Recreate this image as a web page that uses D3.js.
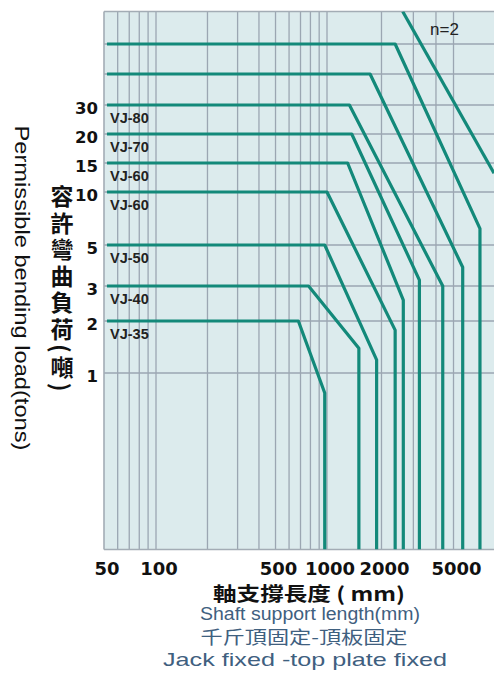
<!DOCTYPE html>
<html>
<head>
<meta charset="utf-8">
<script src="https://cdn.jsdelivr.net/npm/d3@7"></script>
<style>
  body { margin: 0; background: #fff; }
  svg { display: block; }
</style>
</head>
<body>
<div id="chart"></div>
<script>
// shaft support length (mm) ticks and grid
const xTicks = [50, 100, 500, 1000, 2000, 5000];
const xGrid = [60, 70, 80, 90, 100, 200, 300, 400, 500, 600, 700, 800, 900, 1000, 2000, 3000, 4000, 5000];
// permissible load (tons) ticks and grid
const yTicks = [1, 2, 3, 5, 10, 15, 20, 30];
const yGrid = [1, 2, 3, 5, 10, 15, 20, 30, 45, 65];

// one curve per jack: flat at its load, bends down, then drops straight at its max length
const models = ["VJ-35", "VJ-40", "VJ-50", "VJ-60", "VJ-60", "VJ-70", "VJ-80", "", ""];
const loads = [2, 3, 5, 10, 15, 20, 30, 45, 65];
const flatEnd = [680, 780, 970, 1000, 1300, 1370, 1330, 1730, 2380];
const maxLength = [970, 1500, 1880, 2380, 2640, 3240, 4360, 5620, 7000];
const loadAtMax = [0.77, 1.39, 1.19, 1.77, 2.55, 3.23, 3.0, 3.79, 6.2];
const startLength = 52;

// n=2 reference line
const n2Length = [2620, 8370];
const n2Load = [100, 13];

const width = 494, height = 684;

// the printed chart is not a perfect log grid, so both scales are piecewise log
const x = d3.scaleLog()
    .domain([50, 100, 1000, 10000])
    .range([104, 156, 327, 508]);

const y = d3.scaleLog()
    .domain([0.1, 1, 2, 3, 5, 10, 15, 20, 30, 45, 65, 100])
    .range([549.5, 373, 321, 286, 245, 192, 163, 134, 105, 74, 44, 11.5]);

const svg = d3.select("#chart").append("svg")
    .attr("width", width)
    .attr("height", height);

const teal = "#13897a";
const gridColor = "#9ba6b2";
const slate = "#3f607f";

// plot background
svg.append("rect")
    .attr("x", x(50))
    .attr("y", y(100))
    .attr("width", x(10000) - x(50))
    .attr("height", y(0.1) - y(100))
    .attr("fill", "#dcebed");

svg.append("clipPath").attr("id", "plotClip")
    .append("rect")
    .attr("x", x(50))
    .attr("y", y(100))
    .attr("width", x(10000) - x(50))
    .attr("height", y(0.1) - y(100));

// grid
svg.append("g").selectAll("line").data(xGrid).join("line")
    .attr("x1", d => x(d)).attr("x2", d => x(d))
    .attr("y1", y(100)).attr("y2", y(0.1))
    .attr("stroke", gridColor)
    .attr("stroke-width", 1.3);

svg.append("g").selectAll("line").data(yGrid).join("line")
    .attr("x1", x(50)).attr("x2", x(10000))
    .attr("y1", d => y(d)).attr("y2", d => y(d))
    .attr("stroke", gridColor)
    .attr("stroke-width", 1.3);

// frame
[[50, 100, 10000, 100], [50, 0.1, 10000, 0.1], [50, 100, 50, 0.1]].forEach(f => {
    svg.append("line")
        .attr("x1", x(f[0])).attr("y1", y(f[1]))
        .attr("x2", x(f[2])).attr("y2", y(f[3]))
        .attr("stroke", "#a3acb5")
        .attr("stroke-width", 1.6);
});

const line = d3.line()
    .x(d => x(d[0]))
    .y(d => y(d[1]));

const curves = svg.append("g").attr("clip-path", "url(#plotClip)");

loads.forEach((load, i) => {
    const pts = [
        [startLength, load],
        [flatEnd[i], load],
        [maxLength[i], loadAtMax[i]],
        [maxLength[i], 0.1]
    ];
    curves.append("path")
        .attr("d", line(pts))
        .attr("fill", "none")
        .attr("stroke", teal)
        .attr("stroke-width", 3.2)
        .attr("stroke-linejoin", "round");
});

curves.append("path")
    .attr("d", line(n2Length.map((d, i) => [d, n2Load[i]])))
    .attr("fill", "none")
    .attr("stroke", teal)
    .attr("stroke-width", 3.2);

svg.append("text")
    .attr("x", 430)
    .attr("y", 35)
    .attr("font-family", "Liberation Sans, Arial, sans-serif")
    .attr("font-size", "17px")
    .attr("fill", "#222")
    .text("n=2");

// model labels under each flat line
models.forEach((m, i) => {
    if (!m) return;
    svg.append("text")
        .attr("x", 110)
        .attr("y", y(loads[i]) + 18)
        .attr("font-family", "Liberation Sans, Arial, sans-serif")
        .attr("font-size", "14.5px")
        .attr("font-weight", "bold")
        .attr("fill", "#222")
        .text(m);
});

// tick labels
svg.append("g").selectAll("text").data(yTicks).join("text")
    .attr("x", 98)
    .attr("y", d => y(d) + 9)
    .attr("text-anchor", "end")
    .attr("font-family", "DejaVu Sans, sans-serif")
    .attr("font-size", "16.5px")
    .attr("font-weight", "bold")
    .attr("fill", "#111")
    .text(d => d);

svg.append("g").selectAll("text").data(xTicks).join("text")
    .attr("x", d => x(d) + 3)
    .attr("y", 575)
    .attr("text-anchor", "middle")
    .attr("font-family", "DejaVu Sans, sans-serif")
    .attr("font-size", "18px")
    .attr("font-weight", "bold")
    .attr("fill", "#111")
    .text(d => d);

// y titles
svg.append("text")
    .attr("x", 62)
    .attr("y", 185)
    .attr("font-family", "Noto Sans CJK TC, sans-serif")
    .attr("font-size", "23px")
    .attr("font-weight", "bold")
    .attr("letter-spacing", "3.5px")
    .attr("fill", "#111")
    .style("writing-mode", "vertical-rl")
    .text("容許彎曲負荷(噸)");

svg.append("text")
    .attr("transform", "translate(22,288) rotate(90)")
    .attr("text-anchor", "middle")
    .attr("dy", "0.35em")
    .attr("font-family", "Liberation Sans, Arial, sans-serif")
    .attr("font-size", "20px")
    .attr("textLength", 325)
    .attr("lengthAdjust", "spacingAndGlyphs")
    .attr("fill", "#111")
    .text("Permissible bending load(tons)");

// x titles
const titles = [
    { t: "軸支撐長度 ( mm)", x: 309, y: 601, len: 192, size: "19px", color: "#111", font: "Noto Sans CJK TC, sans-serif", weight: "bold" },
    { t: "Shaft support length(mm)", x: 310, y: 620, len: 220, size: "17.5px", color: slate, font: "Liberation Sans, Arial, sans-serif", weight: "normal" },
    { t: "千斤頂固定-頂板固定", x: 304, y: 644, len: 207, size: "18px", color: slate, font: "Noto Sans CJK TC, sans-serif", weight: "normal" },
    { t: "Jack fixed -top plate fixed", x: 305, y: 666, len: 284, size: "18.5px", color: slate, font: "Liberation Sans, Arial, sans-serif", weight: "normal" }
];

titles.forEach(d => {
    svg.append("text")
        .attr("x", d.x)
        .attr("y", d.y)
        .attr("text-anchor", "middle")
        .attr("font-family", d.font)
        .attr("font-size", d.size)
        .attr("font-weight", d.weight)
        .attr("textLength", d.len)
        .attr("lengthAdjust", "spacingAndGlyphs")
        .attr("fill", d.color)
        .text(d.t);
});
</script>
</body>
</html>
